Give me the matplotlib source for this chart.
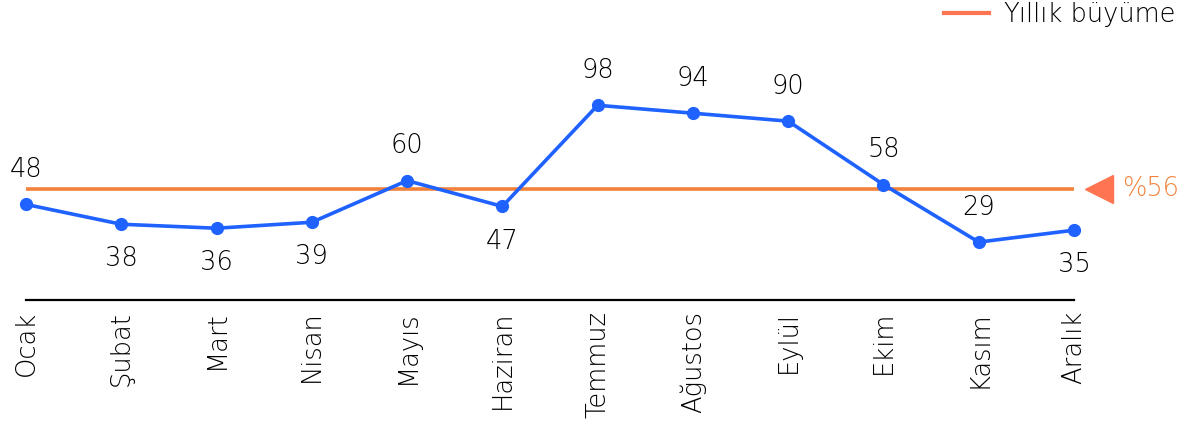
import matplotlib
matplotlib.use("Agg")
import matplotlib.pyplot as plt
from matplotlib.lines import Line2D

months = ["Ocak", "Şubat", "Mart", "Nisan", "Mayıs", "Haziran", "Temmuz",
          "Ağustos", "Eylül", "Ekim", "Kasım", "Aralık"]
values = [48, 38, 36, 39, 60, 47, 98, 94, 90, 58, 29, 35]
annual_growth = 56
series_name = "Yıllık büyüme"

# label placement per point: +1 above, -1 below
label_side = [1, -1, -1, -1, 1, -1, 1, 1, 1, 1, 1, -1]

plt.rcParams["font.family"] = ["DejaVu Sans"]

BLUE = "#1F62FF"
ORANGE = "#F2813A"
SALMON = "#FF7551"
FS = 18.5

fig = plt.figure(figsize=(11.87, 4.33), dpi=100)
ax = fig.add_axes([26 / 1187, 1 - 299.6 / 433, (1074 - 26) / 1187, (299.6 - 20) / 433])

x = list(range(len(months)))
ax.plot(x, values, color=BLUE, lw=2.6, marker="o", ms=8.5, zorder=3, clip_on=False)
ax.axhline(annual_growth, color=ORANGE, lw=2.6, zorder=2)

for xi, v, side in zip(x, values, label_side):
    ax.annotate(str(v), (xi, v), xytext=(0, 25 * side), textcoords="offset points",
                ha="center", va="center", fontsize=FS, color="black", fontweight="light")

# growth marker on the right edge
ax.plot([11.26], [annual_growth], marker="<", ms=20, color=SALMON, mec=SALMON,
        clip_on=False, zorder=4)
ax.text(11.5, annual_growth, f"%{annual_growth}", color=ORANGE, fontsize=FS,
        ha="left", va="center", fontweight="light", clip_on=False)

ax.set_xlim(0, len(months) - 1)
ax.set_ylim(0, 141)
ax.set_xticks(x)
ax.set_xticklabels(months, rotation=90, fontsize=FS, fontweight="light", va="top")
ax.tick_params(axis="x", length=0, pad=8)
ax.set_yticks([])
for s in ["top", "left", "right"]:
    ax.spines[s].set_visible(False)
ax.spines["bottom"].set_linewidth(1.6)
ax.spines["bottom"].set_color("black")

handle = Line2D([], [], color=SALMON, lw=3)
fig.legend([handle], [series_name], loc="upper right",
           bbox_to_anchor=(1176 / 1187, 1 - 2 / 433), borderaxespad=0, borderpad=0,
           frameon=False, handlelength=1.75, handletextpad=0.6,
           prop={"weight": "light", "size": FS})

fig.savefig("out.png", dpi=100)
